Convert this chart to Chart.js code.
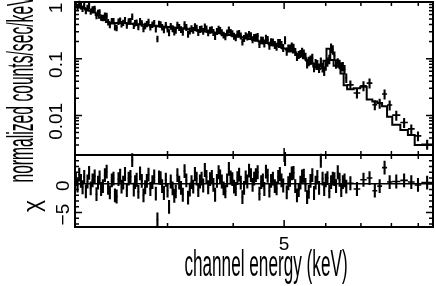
<!DOCTYPE html>
<html>
<head>
<meta charset="utf-8">
<script src="https://cdn.jsdelivr.net/npm/chart.js@4.4.1/dist/chart.umd.min.js"></script>
<style>
  html, body { margin: 0; padding: 0; background: #fff; }
  #wrap { width: 436px; height: 286px; position: relative; }
</style>
</head>
<body>
<div id="wrap"><canvas id="spec"></canvas></div>
<script>
// data channel bin edges (keV), one more than the number of bins
const binEdges = [
  2.000, 2.015, 2.030, 2.045, 2.060, 2.075, 2.090, 2.105, 2.120, 2.135,
  2.150, 2.170, 2.190, 2.205, 2.220, 2.235, 2.250, 2.270, 2.290, 2.305,
  2.320, 2.340, 2.360, 2.375, 2.390, 2.410, 2.430, 2.445, 2.460, 2.480,
  2.500, 2.520, 2.540, 2.560, 2.580, 2.595, 2.610, 2.630, 2.650, 2.670,
  2.690, 2.710, 2.730, 2.750, 2.770, 2.795, 2.820, 2.840, 2.860, 2.880,
  2.900, 2.920, 2.940, 2.965, 2.990, 3.010, 3.030, 3.055, 3.080, 3.100,
  3.120, 3.145, 3.170, 3.195, 3.220, 3.245, 3.270, 3.295, 3.320, 3.345,
  3.370, 3.395, 3.420, 3.445, 3.470, 3.495, 3.520, 3.545, 3.570, 3.600,
  3.630, 3.655, 3.680, 3.710, 3.740, 3.765, 3.790, 3.820, 3.850, 3.880,
  3.910, 3.940, 3.970, 4.000, 4.030, 4.060, 4.090, 4.120, 4.150, 4.180,
  4.210, 4.240, 4.270, 4.305, 4.340, 4.370, 4.400, 4.435, 4.470, 4.505,
  4.540, 4.570, 4.600, 4.635, 4.670, 4.705, 4.740, 4.780, 4.820, 4.855,
  4.890, 4.925, 4.960, 5.000, 5.040, 5.075, 5.110, 5.150, 5.190, 5.230,
  5.270, 5.310, 5.350, 5.390, 5.430, 5.470, 5.510, 5.550, 5.590, 5.635,
  5.680, 5.720, 5.760, 5.805, 5.850, 5.895, 5.940, 5.980, 6.020, 6.070,
  6.120, 6.165, 6.210, 6.255, 6.300, 6.350, 6.400, 6.445, 6.490, 6.540,
  6.590, 6.780, 6.980, 7.180, 7.360, 7.520, 7.680, 7.850, 8.030, 8.320,
  8.600, 8.860, 9.120, 9.600
];

// normalized counts/sec/keV per data bin
const counts = [
  0.899, 0.815, 0.931, 0.848, 0.766, 0.871, 0.699, 0.795, 0.864, 0.683,
  0.744, 0.762, 0.569, 0.645, 0.658, 0.534, 0.528, 0.577, 0.572, 0.444,
  0.396, 0.461, 0.463, 0.360, 0.350, 0.452, 0.473, 0.408, 0.432, 0.483,
  0.388, 0.456, 0.460, 0.555, 0.382, 0.425, 0.433, 0.364, 0.463, 0.421,
  0.336, 0.381, 0.411, 0.446, 0.362, 0.399, 0.425, 0.333, 0.225, 0.413,
  0.405, 0.363, 0.323, 0.391, 0.332, 0.290, 0.375, 0.340, 0.298, 0.321,
  0.395, 0.359, 0.329, 0.295, 0.403, 0.359, 0.273, 0.311, 0.340, 0.319,
  0.370, 0.349, 0.292, 0.330, 0.337, 0.306, 0.367, 0.338, 0.288, 0.321,
  0.326, 0.292, 0.248, 0.304, 0.333, 0.317, 0.290, 0.263, 0.246, 0.288,
  0.324, 0.292, 0.279, 0.252, 0.237, 0.275, 0.281, 0.253, 0.198, 0.229,
  0.257, 0.244, 0.271, 0.256, 0.218, 0.238, 0.241, 0.249, 0.180, 0.213,
  0.211, 0.187, 0.228, 0.217, 0.171, 0.197, 0.195, 0.176, 0.164, 0.192,
  0.191, 0.176, 0.156, 0.215, 0.134, 0.153, 0.153, 0.166, 0.158, 0.133,
  0.108, 0.118, 0.123, 0.134, 0.125, 0.110, 0.0832, 0.0906, 0.0957, 0.103,
  0.0715, 0.0833, 0.0800, 0.0689, 0.088, 0.0708, 0.0612, 0.0755, 0.0886, 0.0986,
  0.156, 0.145, 0.112, 0.0823, 0.0858, 0.0803, 0.073, 0.0737, 0.065, 0.0461,
  0.0345, 0.0248, 0.0334, 0.0371, 0.0154, 0.0164, 0.0239, 0.0152, 0.0101, 0.0075,
  0.00578, 0.00435, 0.0031
];

// residuals (data - model) / sigma per data bin
const chi = [
  0.8, -0.3, 1.6, 0.5, -0.6, 1.2, -1.3, 0.4, 1.9, -0.8,
  0.6, 1.3, -1.8, 0.2, 1.1, -0.9, -0.4, 1.5, 2.1, -0.7,
  -1.5, 0.6, 0.9, -2.0, -2.2, 0.8, 1.4, -0.5, 0.2, 1.7,
  -1.1, 0.9, 1.2, 4.1, -1.0, 0.3, 0.7, -1.4, 1.8, 0.5,
  -2.0, -0.6, 0.5, 1.6, -0.9, 0.3, 1.3, -1.7, -6.2, 1.1,
  1.0, -0.4, -1.6, 0.7, -1.2, -4.0, 0.4, -0.8, -2.1, -1.3,
  1.5, 0.2, -0.7, -1.9, 2.2, 0.6, -2.4, -1.0, 0.3, -0.5,
  1.7, 0.9, -1.1, 0.4, 0.9, -0.3, 2.4, 1.2, -0.6, 0.8,
  1.2, -0.2, -1.9, 0.5, 2.0, 1.3, 0.4, -0.8, -1.3, 0.6,
  2.6, 1.1, 0.8, -0.5, -0.9, 1.0, 1.6, 0.2, -2.3, -0.7,
  1.1, 0.4, 2.3, 1.5, -0.2, 0.9, 1.5, 2.0, -1.7, 0.3,
  0.6, -0.9, 2.1, 1.4, -1.2, 0.5, 0.9, -0.4, -0.8, 1.2,
  1.7, 0.6, -0.3, 4.3, -1.5, 0.1, 0.7, 1.8, 1.9, -0.4,
  -2.0, -1.1, 0.2, 1.3, 1.4, -0.2, -2.3, -1.4, 0.5, 1.5,
  -1.6, 0.2, 1.2, -0.7, 4.0, 0.9, -0.9, 0.6, 1.0, -1.3,
  0.3, 0.9, 0.8, -0.4, 2.0, 0.7, -1.1, 0.3, 0.6, -0.5,
  0.1, -0.9, 0.7, 1.0, -1.2, -0.4, 2.8, 0.3, 0.4, 0.6,
  0.3, -0.2, 0.2
];
// size of the residual error bar (in sigma, as plotted)
const chiErr = 1.2;

// fractional 1-sigma error by energy band (upper edge of band in keV)
const errBandUpper = [3.0, 4.5, 5.5, 6.6, 9.6];
const errBandFrac = [0.13, 0.14, 0.16, 0.19, 0.20];

// folded model, on its own (coarser) grid
const modelEdges = [
  2.00, 2.03, 2.06, 2.09, 2.12, 2.15, 2.19, 2.22, 2.25, 2.29,
  2.32, 2.36, 2.39, 2.43, 2.46, 2.50, 2.54, 2.58, 2.61, 2.65,
  2.69, 2.73, 2.77, 2.82, 2.86, 2.90, 2.94, 2.99, 3.03, 3.08,
  3.12, 3.17, 3.22, 3.27, 3.32, 3.37, 3.42, 3.47, 3.52, 3.57,
  3.63, 3.68, 3.74, 3.79, 3.85, 3.91, 3.97, 4.03, 4.09, 4.15,
  4.21, 4.27, 4.34, 4.40, 4.47, 4.54, 4.60, 4.67, 4.74, 4.82,
  4.89, 4.96, 5.04, 5.11, 5.19, 5.27, 5.35, 5.43, 5.51, 5.59,
  5.68, 5.76, 5.85, 5.94, 6.02, 6.12, 6.21, 6.30, 6.40, 6.49,
  6.59, 6.78, 6.98, 7.18, 7.36, 7.52, 7.68, 7.85, 8.03, 8.32,
  8.60, 8.86, 9.12, 9.60
];
const model = [
  0.84, 0.82, 0.80, 0.775, 0.74, 0.70, 0.65, 0.59, 0.53, 0.48,
  0.445, 0.43, 0.425, 0.425, 0.425, 0.425, 0.42, 0.415, 0.41, 0.405,
  0.40, 0.395, 0.39, 0.385, 0.38, 0.375, 0.37, 0.367, 0.363, 0.358,
  0.353, 0.348, 0.343, 0.338, 0.332, 0.326, 0.320, 0.314, 0.308, 0.302,
  0.297, 0.292, 0.287, 0.281, 0.275, 0.268, 0.262, 0.255, 0.249, 0.243,
  0.236, 0.229, 0.222, 0.215, 0.208, 0.201, 0.195, 0.189, 0.182, 0.175,
  0.168, 0.160, 0.152, 0.145, 0.137, 0.129, 0.121, 0.112, 0.102, 0.092,
  0.082, 0.073, 0.066, 0.068, 0.092, 0.150, 0.095, 0.075, 0.078, 0.055,
  0.034, 0.029, 0.030, 0.032, 0.019, 0.0175, 0.0165, 0.0145, 0.0095, 0.0068,
  0.0055, 0.0045, 0.0030
];

const xTickLabels = [5];
const xMinorTicks = [3, 4, 6, 7, 8, 9];
const yTopTicks = [1, 0.1, 0.01];
const yResTicks = [0, -5];

const xTitle = 'channel energy (keV)';
const yTitle = 'normalized counts/sec/keV';
const resTitle = '\u03c7';

const tickFont = { family: '"Liberation Sans", Arial, sans-serif', size: 19 };

const errFracAt = e => errBandFrac[errBandUpper.findIndex(u => e <= u)];

const dataPts = counts.map((c, i) => {
  const lo = binEdges[i], hi = binEdges[i + 1];
  const err = c * errFracAt(lo);
  return { x: Math.sqrt(lo * hi), y: c, xMin: lo, xMax: hi, yMin: c - err, yMax: c + err };
});
const modelPts = model.map((m, i) => ({ x: modelEdges[i], y: m }));
modelPts.push({ x: modelEdges[modelEdges.length - 1], y: model[model.length - 1] });
const chiPts = chi.map((r, i) => {
  const lo = binEdges[i], hi = binEdges[i + 1];
  return { x: Math.sqrt(lo * hi), y: r, xMin: lo, xMax: hi, yMin: r - chiErr, yMax: r + chiErr };
});
const zeroPts = [{ x: binEdges[0], y: 0 }, { x: binEdges[binEdges.length - 1], y: 0 }];

// crosses: bin width horizontally, 1 sigma vertically
const errorBars = {
  id: 'errorBars',
  afterDatasetsDraw(chart) {
    const { ctx, chartArea: ca } = chart;
    ctx.save();
    ctx.beginPath();
    ctx.rect(ca.left, ca.top - 8, ca.right - ca.left, ca.bottom - ca.top + 8);
    ctx.clip();
    ctx.lineCap = 'butt';
    chart.data.datasets.forEach(ds => {
      if (!ds.errorBars) return;
      const xs = chart.scales.x, ys = chart.scales[ds.yAxisID];
      ctx.strokeStyle = ds.borderColor;
      ctx.beginPath();
      ds.data.forEach(p => {
        const py = ys.getPixelForValue(p.y);
        ctx.moveTo(xs.getPixelForValue(p.xMin), py);
        ctx.lineTo(xs.getPixelForValue(p.xMax), py);
      });
      ctx.lineWidth = ds.errorBarWidth;
      ctx.stroke();
      ctx.beginPath();
      ds.data.forEach(p => {
        const px = xs.getPixelForValue(p.x);
        ctx.moveTo(px, ys.getPixelForValue(p.yMin));
        ctx.lineTo(px, ys.getPixelForValue(p.yMax));
      });
      ctx.lineWidth = ds.errorBarWidth + 0.5;
      ctx.stroke();
    });
    ctx.restore();
  }
};

// boxes and inward ticks on every side of both panels
const frame = {
  id: 'frame',
  afterDraw(chart) {
    const { ctx, chartArea: ca, scales } = chart;
    const xs = scales.x, yt = scales.y, yr = scales.yr;
    const line = (x1, y1, x2, y2) => { ctx.moveTo(x1, y1); ctx.lineTo(x2, y2); };
    ctx.save();
    ctx.strokeStyle = '#000';
    ctx.lineWidth = 1.5;
    ctx.beginPath();
    [yt, yr].forEach(ys => {
      xTickLabels.concat(xMinorTicks).forEach(v => {
        const px = xs.getPixelForValue(v);
        const len = xTickLabels.includes(v) ? 7 : 4;
        line(px, ys.top, px, ys.top + len);
        line(px, ys.bottom, px, ys.bottom - len);
      });
    });
    for (let d = 0.001; d <= 1; d *= 10) {
      for (let k = 1; k <= 9; k++) {
        const v = d * k;
        if (v < yt.min * 0.999 || v > yt.max * 1.001) continue;
        const py = yt.getPixelForValue(v);
        const len = k === 1 ? 7 : 4;
        line(ca.left, py, ca.left + len, py);
        line(ca.right, py, ca.right - len, py);
      }
    }
    for (let v = Math.ceil(yr.min); v <= yr.max; v++) {
      const py = yr.getPixelForValue(v);
      const len = v % 5 === 0 ? 7 : 4;
      line(ca.left, py, ca.left + len, py);
      line(ca.right, py, ca.right - len, py);
    }
    ctx.stroke();
    ctx.lineWidth = 2;
    [yt, yr].forEach(ys => ctx.strokeRect(ca.left, ys.top, ca.right - ca.left, ys.bottom - ys.top));
    ctx.restore();
  }
};

// narrow axis titles
const titles = {
  id: 'titles',
  afterDraw(chart) {
    const { ctx, scales } = chart;
    const xs = scales.x, yt = scales.y, yr = scales.yr;
    const put = (text, x, y, rot, sx, font) => {
      ctx.save();
      ctx.translate(x, y);
      ctx.rotate(rot);
      ctx.scale(sx, 1);
      ctx.font = font;
      ctx.textAlign = 'center';
      ctx.textBaseline = 'alphabetic';
      ctx.fillText(text, 0, 0);
      ctx.restore();
    };
    ctx.fillStyle = '#000';
    put(xs.options.title.text, 266, 276, 0, 0.477, '36px "Liberation Sans", Arial, sans-serif');
    put(yt.options.title.text, 33, 89, -Math.PI / 2, 0.435, '36px "Liberation Sans", Arial, sans-serif');
    put(yr.options.title.text, 40, 206, -Math.PI / 2, 1, '23px "Liberation Sans", Arial, sans-serif');
  }
};

new Chart(document.getElementById('spec'), {
  type: 'line',
  data: {
    datasets: [
      { label: 'data', data: dataPts, yAxisID: 'y', showLine: false, pointRadius: 0,
        borderColor: '#000', errorBars: true, errorBarWidth: 1.6 },
      { label: 'model', data: modelPts, yAxisID: 'y', stepped: 'after', borderColor: '#000',
        borderWidth: 2, pointRadius: 0, fill: false },
      { label: 'residuals', data: chiPts, yAxisID: 'yr', showLine: false, pointRadius: 0,
        borderColor: '#000', errorBars: true, errorBarWidth: 1.6 },
      { label: 'zero', data: zeroPts, yAxisID: 'yr', borderColor: '#000', borderWidth: 1.5,
        pointRadius: 0, fill: false }
    ]
  },
  options: {
    responsive: true,
    maintainAspectRatio: false,
    animation: false,
    layout: { padding: { top: 2, right: 3, left: 0, bottom: 0 } },
    plugins: { legend: { display: false }, tooltip: { enabled: false } },
    scales: {
      x: {
        type: 'logarithmic', min: 2, max: 9.6, position: 'bottom',
        grid: { display: false, drawTicks: false }, border: { display: false },
        title: { display: false, text: xTitle },
        afterBuildTicks: s => { s.ticks = xTickLabels.map(v => ({ value: v })); },
        ticks: { callback: v => String(v), font: tickFont, color: '#000', padding: 6,
                 maxRotation: 0, autoSkip: false },
        afterFit: s => { s.height = 59; s.paddingLeft = 0; s.paddingRight = 0; }
      },
      y: {
        type: 'logarithmic', min: 0.002, max: 1, position: 'left',
        stack: 'panels', stackWeight: 153, weight: 1,
        grid: { display: false, drawTicks: false }, border: { display: false },
        title: { display: false, text: yTitle },
        afterBuildTicks: s => { s.ticks = yTopTicks.map(v => ({ value: v })); },
        ticks: { callback: v => String(v), font: tickFont, color: '#000', padding: 0,
                 minRotation: 90, maxRotation: 90, crossAlign: 'center', labelOffset: 6, autoSkip: false },
        afterFit: s => { s.width = 75; s.paddingTop = 0; s.paddingBottom = 0; }
      },
      yr: {
        type: 'linear', min: -7.5, max: 5, position: 'left',
        stack: 'panels', stackWeight: 72, weight: 0,
        grid: { display: false, drawTicks: false }, border: { display: false },
        title: { display: false, text: resTitle },
        afterBuildTicks: s => { s.ticks = yResTicks.map(v => ({ value: v })); },
        ticks: { callback: v => (v < 0 ? '\u2212' + Math.abs(v) : String(v)), font: tickFont,
                 color: '#000', padding: 0, minRotation: 90, maxRotation: 90, crossAlign: 'center',
                 labelOffset: 2, autoSkip: false },
        afterFit: s => { s.width = 75; s.paddingTop = 0; s.paddingBottom = 0; }
      }
    }
  },
  plugins: [errorBars, frame, titles]
});
</script>
</body>
</html>
